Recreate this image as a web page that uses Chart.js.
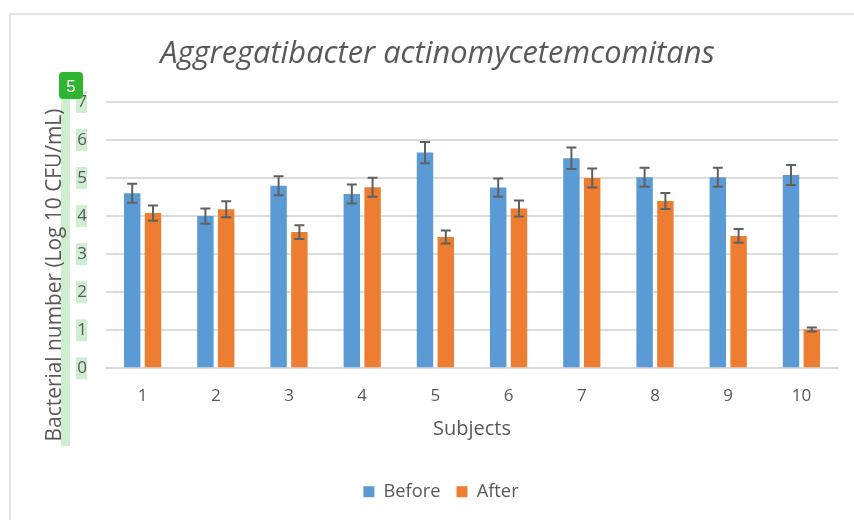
<!DOCTYPE html>
<html><head><meta charset="utf-8">
<style>html,body{margin:0;padding:0;background:#fff}#w{width:854px;height:520px;position:relative}canvas{display:block;filter:blur(0.6px)}</style>
<script src="https://cdn.jsdelivr.net/npm/chart.js@4"></script></head>
<body><div id="w"><canvas id="c" width="854" height="520"></canvas></div>
<script>
const subjects=['1','2','3','4','5','6','7','8','9','10'];
const before=[4.6,4.0,4.8,4.58,5.67,4.75,5.52,5.02,5.02,5.08];
const after=[4.08,4.18,3.58,4.76,3.45,4.2,5.0,4.4,3.48,1.02];
const beforeErr=[0.25,0.2,0.25,0.25,0.28,0.24,0.28,0.25,0.25,0.26];
const afterErr=[0.2,0.21,0.18,0.25,0.17,0.21,0.25,0.21,0.18,0.05];
const titleText='Aggregatibacter actinomycetemcomitans';
const yTitle='Bacterial number (Log 10 CFU/mL)';
const xTitle='Subjects';
const badgeText='5';
const GREY='#595959',HL='#cfeed0';
const FONT='"Open Sans"';

const decor={id:'decor',
 afterLayout(ch){ch.legend.left+=3.5;ch.legend.right+=3.5;},
 beforeDraw(ch){const g=ch.ctx,y=ch.scales.y;g.save();
  g.fillStyle='#fff';g.fillRect(0,0,854,520);
  g.fillStyle='#e3e3e3';g.fillRect(9,13,845,2);g.fillRect(9,13,2,507);
  g.fillStyle=HL;g.fillRect(61,99,9,347);
  y.ticks.forEach(t=>{const p=y.getPixelForValue(t.value);g.fillRect(76,p-11,11,22);});
  g.fillStyle=GREY;g.font='20.9px '+FONT;g.textAlign='center';g.textBaseline='middle';
  g.translate(55,275);g.rotate(-Math.PI/2);g.fillText(yTitle,0,0);
  g.restore();},
 afterDraw(ch){const g=ch.ctx;g.save();
  g.fillStyle='#2fb52f';g.beginPath();g.roundRect(59,72,24,27,4);g.fill();
  g.fillStyle='#fff';g.font='17px "Liberation Sans"';g.textAlign='center';g.textBaseline='middle';
  g.fillText(badgeText,71,87);g.restore();}
};
const errs={id:'errs',afterDatasetsDraw(ch){const g=ch.ctx,y=ch.scales.y;g.save();
  g.strokeStyle='#606060';g.lineWidth=2;
  [beforeErr,afterErr].forEach((es,d)=>{const src=ch.data.datasets[d].data;
   ch.getDatasetMeta(d).data.forEach((b,i)=>{
    const hi=y.getPixelForValue(src[i]+es[i]),lo=y.getPixelForValue(src[i]-es[i]);
    g.beginPath();g.moveTo(b.x,hi);g.lineTo(b.x,lo);
    g.moveTo(b.x-5,hi);g.lineTo(b.x+5,hi);g.moveTo(b.x-5,lo);g.lineTo(b.x+5,lo);g.stroke();});});
  g.restore();}};

new Chart(document.getElementById('c'),{type:'bar',
 data:{labels:subjects,datasets:[
  {label:'Before',data:before,backgroundColor:'#5b9bd5',categoryPercentage:0.568,barPercentage:0.79},
  {label:'After',data:after,backgroundColor:'#ed7d31',categoryPercentage:0.568,barPercentage:0.79}]},
 plugins:[decor,errs],
 options:{responsive:false,animation:false,devicePixelRatio:1,
  layout:{padding:{left:37,right:16,top:36,bottom:9}},
  plugins:{tooltip:{enabled:false},
   title:{display:true,text:titleText,color:GREY,font:{family:FONT,size:30.8,style:'italic',weight:'normal'},padding:{top:0,bottom:29}},
   legend:{position:'bottom',labels:{color:GREY,font:{family:FONT,size:18.3},boxWidth:11,boxHeight:11,padding:16}}},
  scales:{
   x:{grid:{display:false},border:{color:'#d9d9d9',width:2},
      ticks:{color:GREY,font:{family:FONT,size:17},padding:10,maxRotation:0},
      title:{display:true,text:xTitle,color:GREY,font:{family:FONT,size:20},padding:{top:1,bottom:25}}},
   y:{min:0,max:7,afterFit(s){s.width=69;},
      grid:{color:'#dcdcdc',lineWidth:2,drawTicks:false},border:{display:false},
      ticks:{stepSize:1,color:GREY,font:{family:FONT,size:17},padding:19}}
  }}});
</script></body></html>
